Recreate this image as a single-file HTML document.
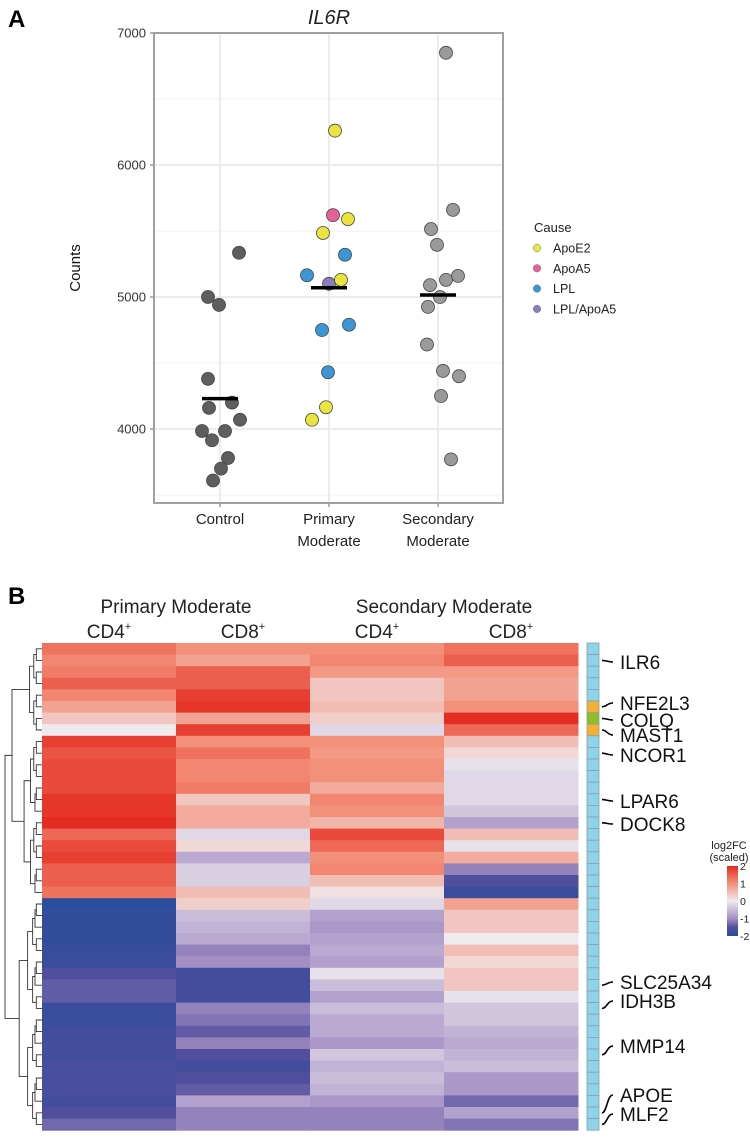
<!DOCTYPE html>
<html><head><meta charset="utf-8">
<style>
html,body{margin:0;padding:0;background:#fff;}
body{width:750px;height:1133px;overflow:hidden;font-family:"Liberation Sans",sans-serif;}
svg text{font-family:"Liberation Sans",sans-serif;}
</style></head>
<body>
<svg id="fig" width="750" height="1133" viewBox="0 0 750 1133" xmlns="http://www.w3.org/2000/svg">
<g id="panelA"></g>
<g id="panelB"></g>
</svg>
<script>
// ---------- Panel A data ----------
const categories = ["Control","Primary Moderate","Secondary Moderate"];
const pointCat = [0,0,0,0,0,0,0,0,0,0,0,0,0, 1,1,1,1,1,1,1,1,1,1,1,1,1, 2,2,2,2,2,2,2,2,2,2,2,2,2,2];
const pointJitter = [-12,-1,19,-12,-11,12,20,-18,5,-8,8,1,-7, 6,4,19,-6,16,-22,0,12,-7,20,-1,-3,-17, 8,15,-7,-1,8,20,-8,2,-10,-11,5,21,3,13];
const pointValue = [5000,4940,5335,4380,4160,4200,4070,3985,3985,3915,3780,3700,3610,
  6260,5620,5590,5485,5320,5165,5100,5130,4750,4790,4430,4165,4070,
  6850,5660,5515,5395,5130,5160,5090,5000,4925,4640,4440,4400,4250,3770];
const pointCause = ["c","c","c","c","c","c","c","c","c","c","c","c","c",
  "ApoE2","ApoA5","ApoE2","ApoE2","LPL","LPL","LPL/ApoA5","ApoE2","LPL","LPL","LPL","ApoE2","ApoE2",
  "s","s","s","s","s","s","s","s","s","s","s","s","s","s"];
const groupMeans = [4230,5070,5015];
const yTicks = [4000,5000,6000,7000];
const yMinor = [3500,4500,5500,6500];
const legendCauses = ["ApoE2","ApoA5","LPL","LPL/ApoA5"];

// ---------- Panel B data ----------
const colGroups = ["Primary Moderate","Secondary Moderate"];
const colLabels = ["CD4","CD8","CD4","CD8"];
const heatValues = [
[1.3,1.0,1.0,1.3],[1.1,0.8,1.1,1.5],[1.2,1.5,0.9,0.9],[1.5,1.5,0.4,0.8],[1.1,1.8,0.4,0.8],
[0.8,1.9,0.5,1.0],[0.4,0.8,0.3,2.0],[0.0,1.8,-0.2,1.4],[1.8,1.0,1.0,0.5],[1.6,1.3,0.9,0.2],
[1.7,1.1,1.0,-0.1],[1.7,1.1,1.0,-0.2],[1.7,1.2,0.7,-0.2],[1.9,0.4,1.1,-0.2],[1.9,0.7,1.0,-0.4],
[2.0,0.7,0.6,-0.8],[1.4,-0.2,1.7,0.5],[1.7,0.2,1.4,-0.1],[1.8,-0.7,1.0,0.7],[1.5,-0.3,1.1,-1.1],
[1.5,-0.3,0.5,-1.5],[1.3,0.5,0.1,-1.8],[-2.0,0.3,-0.2,0.8],[-1.9,-0.5,-0.8,0.4],[-1.9,-0.6,-0.9,0.4],
[-1.9,-0.7,-0.8,0.0],[-1.8,-1.1,-0.7,0.5],[-1.8,-1.0,-0.8,0.2],[-1.5,-1.7,-0.1,0.4],[-1.4,-1.7,-0.5,0.4],
[-1.4,-1.7,-0.8,-0.1],[-1.8,-1.1,-0.5,-0.4],[-1.8,-1.2,-0.7,-0.4],[-1.7,-1.4,-0.7,-0.6],[-1.7,-1.1,-0.9,-0.7],
[-1.7,-1.5,-0.4,-0.6],[-1.6,-1.7,-0.6,-0.5],[-1.6,-1.5,-0.5,-0.9],[-1.6,-1.4,-0.6,-0.9],[-1.7,-0.8,-0.9,-1.3],
[-1.5,-1.1,-1.1,-0.8],[-1.3,-1.1,-1.1,-1.2]];
const rowAnnot = ["a","a","a","a","a","o","g","o","a","a","a","a","a","a","a","a","a","a","a","a","a","a",
 "a","a","a","a","a","a","a","a","a","a","a","a","a","a","a","a","a","a","a","a"];
const geneLabels = ["ILR6","NFE2L3","COLQ","MAST1","NCOR1","LPAR6","DOCK8","SLC25A34","IDH3B","MMP14","APOE","MLF2"];
const geneRows = [1,5,6,7,9,13,15,29,31,35,40,41];
const geneLabelY = [662,703,720,735,755,801,824,982,1001,1046,1095,1114];
const scaleTicks = [2,1,0,-1,-2];

const NS="http://www.w3.org/2000/svg";
function mk(tag,attrs,parent,text){const e=document.createElementNS(NS,tag);for(const k in attrs)e.setAttribute(k,attrs[k]);if(text!==undefined)e.textContent=text;parent.appendChild(e);return e;}

// ---------- Panel A ----------
const A=document.getElementById('panelA');
const px0=154,px1=503,py0=33,py1=503;
const catX=[220,329,438];
function yScale(v){return 33+(7000-v)*0.132;}
function xScale(c,j){return catX[c]+j;}
const causeColors={"ApoE2":"#ebe43f","ApoA5":"#e8609a","LPL":"#3c96d6","LPL/ApoA5":"#8b7dbf","c":"#5e5e5e","s":"#9a9a9a"};

let t=mk('text',{x:8,y:27,'font-size':24,'font-weight':'bold',fill:'#000'},A,'A');

t=mk('text',{x:329,y:24,'font-size':20,'font-style':'italic','text-anchor':'middle',fill:'#222'},A,'IL6R');

yMinor.forEach(v=>{const l=mk('line',{x1:px0,x2:px1,y1:yScale(v),y2:yScale(v),stroke:'#f2f2f2','stroke-width':1},A);
});
yTicks.forEach(v=>{const l=mk('line',{x1:px0,x2:px1,y1:yScale(v),y2:yScale(v),stroke:'#e6e6e6','stroke-width':1.5},A);

const tk=mk('line',{x1:px0-4,x2:px0,y1:yScale(v),y2:yScale(v),stroke:'#999','stroke-width':1.5},A);

const tl=mk('text',{x:px0-8,y:yScale(v)+4.5,'font-size':13,'text-anchor':'end',fill:'#333'},A,String(v));
});
catX.forEach((x,i)=>{const l=mk('line',{x1:x,x2:x,y1:py0,y2:py1,stroke:'#e6e6e6','stroke-width':1.5},A);

const tk=mk('line',{x1:x,x2:x,y1:py1,y2:py1+4,stroke:'#999','stroke-width':1.5},A);

const words=categories[i].split(' ');
const tl=mk('text',{x:x,y:524,'font-size':15,'text-anchor':'middle',fill:'#222'},A);

words.forEach((w,k)=>{mk('tspan',{x:x,dy:k?22:0},tl,w);});});
const fr=mk('rect',{x:px0,y:py0,width:px1-px0,height:py1-py0,fill:'none',stroke:'#a0a0a0','stroke-width':2},A);

t=mk('text',{x:80,y:268,'font-size':15,'text-anchor':'middle',fill:'#111',transform:'rotate(-90 80 268)'},A,'Counts');

pointValue.forEach((v,i)=>{const c=mk('circle',{cx:xScale(pointCat[i],pointJitter[i]),cy:yScale(v),r:6.5,fill:causeColors[pointCause[i]],stroke:'#444','stroke-width':0.8},A);
});
groupMeans.forEach((m,i)=>{const l=mk('line',{x1:catX[i]-18,x2:catX[i]+18,y1:yScale(m),y2:yScale(m),stroke:'#000','stroke-width':3.5},A);
});
t=mk('text',{x:534,y:232,'font-size':13,fill:'#222'},A,'Cause');

legendCauses.forEach((c,i)=>{const g=mk('g',{},A);

mk('circle',{cx:537,cy:248+i*20.3,r:3.8,fill:causeColors[c],stroke:'#777','stroke-width':0.5},g);
mk('text',{x:553,y:252.5+i*20.3,'font-size':12.5,fill:'#222'},g,c);});

// ---------- Panel B ----------
const B=document.getElementById('panelB');
const hx0=42,colW=134,hy0=643,rowH=11.6;
function hx(c){return hx0+c*colW;}
function hy(r){return hy0+r*rowH;}
const stops=[[-2,[42,77,156]],[-1.5,[82,78,158]],[-1,[163,143,196]],[0,[239,234,238]],[1,[243,144,122]],[2,[228,44,32]]];
function color(v){v=Math.max(-2,Math.min(2,v));for(let i=0;i<stops.length-1;i++){const[a,ca]=stops[i],[b,cb]=stops[i+1];if(v<=b){const f=(v-a)/(b-a);return 'rgb('+ca.map((x,k)=>Math.round(x+(cb[k]-x)*f)).join(',')+')';}}return 'rgb(228,44,32)';}

t=mk('text',{x:8,y:604,'font-size':24,'font-weight':'bold',fill:'#000'},B,'B');

colGroups.forEach((g,i)=>{const e=mk('text',{x:hx(i*2+1),y:613,'font-size':19,'text-anchor':'middle',fill:'#222'},B,g);
});
colLabels.forEach((l,i)=>{const e=mk('text',{x:hx(i)+colW/2,y:638,'font-size':19,'text-anchor':'middle',fill:'#222'},B);

mk('tspan',{},e,l);mk('tspan',{'font-size':11,dy:-8},e,'+');});
heatValues.forEach((row,r)=>{row.forEach((v,c)=>{const e=mk('rect',{x:hx(c),y:hy(r),width:colW+0.5,height:rowH+0.5,fill:color(v)},B);
});});
// annotation bar
const annColors={a:'#8fd3ea',o:'#f6b031',g:'#8dbf24'};
rowAnnot.forEach((a,r)=>{const e=mk('rect',{x:587,y:hy(r),width:12,height:rowH,fill:annColors[a],stroke:'#8a9ea6','stroke-width':0.8},B);
});
geneLabels.forEach((g,i)=>{const ry=hy(geneRows[i])+rowH/2,ly=geneLabelY[i];
const ln=mk('path',{d:'M602 '+ry+' C607 '+ry+' 607 '+ly+' 613 '+ly,fill:'none',stroke:'#000','stroke-width':1.6},B);

const e=mk('text',{x:620,y:ly+7,'font-size':19,fill:'#111'},B,g);
});
// dendrogram: recursive split of contiguous rows
function dend(lo,hi,depth){
  if(lo===hi) return [hy(lo)+rowH/2,42];
  const mid=Math.floor((lo+hi)/2);
  const a=dend(lo,mid,depth+1),b=dend(mid+1,hi,depth+1);
  const span=hi-lo+1;const x=Math.max(4,40-Math.min(36,Math.pow(span,0.75)*2.2));
  const p=mk('path',{d:'M'+a[1]+' '+a[0]+'H'+x+'V'+b[0]+'H'+b[1],fill:'none',stroke:'#333','stroke-width':0.9},B);
  
  return [(a[0]+b[0])/2,x];
}
const c1=dend(0,7,1),c2=dend(8,21,1),c3=dend(22,41,1);
const j1=mk('path',{d:'M'+c1[1]+' '+c1[0]+'H12V'+c2[0]+'H'+c2[1],fill:'none',stroke:'#333','stroke-width':0.9},B);

const jy=(c1[0]+c2[0])/2;
const j2=mk('path',{d:'M12 '+jy+'H5V'+c3[0]+'H'+c3[1],fill:'none',stroke:'#333','stroke-width':0.9},B);

// color legend
t=mk('text',{x:729,y:849,'font-size':11,'text-anchor':'middle',fill:'#222'},B,'log2FC');

t=mk('text',{x:729,y:861,'font-size':11,'text-anchor':'middle',fill:'#222'},B,'(scaled)');

const defs=mk('defs',{},B);const gr=mk('linearGradient',{id:'cg',x1:0,y1:0,x2:0,y2:1},defs);
[2,1,0,-1,-1.5,-2].forEach(v=>mk('stop',{offset:((2-v)/4*100)+'%','stop-color':color(v)},gr));
const cb=mk('rect',{x:727,y:866,width:11,height:70,fill:'url(#cg)'},B);

scaleTicks.forEach(v=>{const y=866+(2-v)/4*70;const e=mk('text',{x:740,y:y+4,'font-size':10.5,fill:'#222'},B,v<0?'-'+(-v):String(v));
});
</script>
</body></html>
